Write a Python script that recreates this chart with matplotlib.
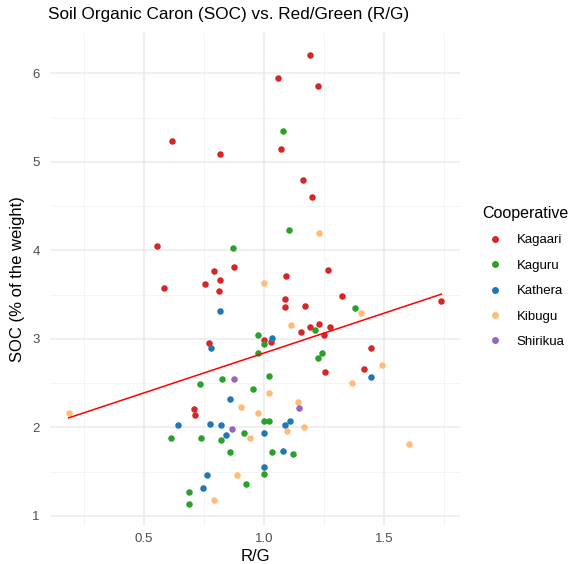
import numpy as np
import matplotlib
matplotlib.use("Agg")
import matplotlib.pyplot as plt
from matplotlib.ticker import MultipleLocator
from matplotlib.lines import Line2D

plt.rcParams['font.family'] = ['Liberation Sans', 'DejaVu Sans']

# ---- data ----
cooperatives = ["Kagaari", "Kaguru", "Kathera", "Kibugu", "Shirikua"]
colors = ["#d62728", "#2ca02c", "#1f77b4", "#ffbb78", "#9467bd"]

kagaari_x = [0.615, 0.815, 0.555, 0.876, 0.789, 0.814, 0.755, 0.810, 0.583, 1.189, 1.058, 1.226,
             1.071, 1.1625, 1.201, 1.265, 1.09, 0.769, 0.708, 0.714, 1.086, 1.086, 1.168, 1.323,
             1.155, 1.19, 1.23, 1.272, 1.25, 0.998, 1.03, 1.443, 1.414, 1.255, 1.7375]
kagaari_y = [5.24, 5.085, 4.045, 3.815, 3.766, 3.665, 3.617, 3.538, 3.579, 6.207, 5.947, 5.856,
             5.148, 4.798, 4.606, 3.778, 3.707, 2.95, 2.208, 2.137, 3.448, 3.358, 3.369, 3.489,
             3.08, 3.14, 3.17, 3.14, 3.05, 2.987, 2.96, 2.897, 2.662, 2.632, 3.43]

kaguru_x = [0.869, 1.080, 1.105, 0.975, 0.976, 0.826, 0.733, 0.955, 0.915, 0.6125, 0.736, 0.819,
            0.857, 0.925, 0.685, 0.6875, 1.376, 1.211, 0.998, 1.24, 1.225, 1.018, 0.998, 1.019,
            1.032, 1.121, 0.998]
kaguru_y = [4.026, 5.348, 4.226, 3.04, 2.84, 2.546, 2.486, 2.437, 1.936, 1.876, 1.876, 1.857,
            1.718, 1.359, 1.268, 1.136, 3.347, 3.1, 2.94, 2.84, 2.79, 2.583, 2.07, 2.07,
            1.718, 1.695, 1.469]

kathera_x = [0.815, 0.7775, 0.857, 0.643, 0.773, 0.819, 0.840, 0.764, 0.746, 1.032, 1.443, 1.107,
             1.0875, 0.998, 1.079, 0.998]
kathera_y = [3.319, 2.897, 2.317, 2.026, 2.038, 2.026, 1.917, 1.457, 1.314, 3.01, 2.572, 2.07,
             2.03, 1.936, 1.729, 1.548]

kibugu_x = [1.2275, 0.998, 0.186, 0.904, 0.975, 0.943, 0.885, 0.7916, 1.4025, 1.11, 1.49, 1.367,
            1.022, 1.14, 1.165, 1.096, 1.6025]
kibugu_y = [4.196, 3.63, 2.167, 2.23, 2.166, 1.876, 1.468, 1.178, 3.29, 3.162, 2.70, 2.507,
            2.384, 2.286, 2.0, 1.955, 1.81]

shirikua_x = [0.876, 0.864, 1.144]
shirikua_y = [2.546, 1.977, 2.215]

series_x = [kagaari_x, kaguru_x, kathera_x, kibugu_x, shirikua_x]
series_y = [kagaari_y, kaguru_y, kathera_y, kibugu_y, shirikua_y]

title = "Soil Organic Caron (SOC) vs. Red/Green (R/G)"
xlabel = "R/G"
ylabel = "SOC (% of the weight)"

# ---- figure ----
fig = plt.figure(figsize=(5.69, 5.64), dpi=100)
ax = fig.add_axes([0.0879, 0.0668, 0.7205, 0.8752])

for xs, ys, c in zip(series_x, series_y, colors):
    ax.scatter(xs, ys, s=22, color=c, linewidths=0, zorder=3)

# linear fit over all data
all_x = np.concatenate([np.array(v) for v in series_x])
all_y = np.concatenate([np.array(v) for v in series_y])
slope, intercept = np.polyfit(all_x, all_y, 1)
lx = np.array([all_x.min(), all_x.max()])
ax.plot(lx, slope * lx + intercept, color="red", lw=1.1, zorder=4)

# limits with ggplot-like expansion
xr = all_x.max() - all_x.min()
yr = all_y.max() - all_y.min()
ax.set_xlim(all_x.min() - 0.05 * xr, all_x.max() + 0.05 * xr)
ax.set_ylim(all_y.min() - 0.05 * yr, all_y.max() + 0.05 * yr)

ax.xaxis.set_major_locator(MultipleLocator(0.5))
ax.xaxis.set_minor_locator(MultipleLocator(0.25))
ax.yaxis.set_major_locator(MultipleLocator(1))
ax.yaxis.set_minor_locator(MultipleLocator(0.5))
ax.xaxis.set_major_formatter(matplotlib.ticker.FormatStrFormatter('%.1f'))
ax.yaxis.set_major_formatter(matplotlib.ticker.FormatStrFormatter('%d'))

ax.grid(which='major', color='#ebebeb', lw=1.1, zorder=0)
ax.grid(which='minor', color='#f2f2f2', lw=0.6, zorder=0)
ax.set_axisbelow(True)
for sp in ax.spines.values():
    sp.set_visible(False)
ax.tick_params(which='both', length=0, labelsize=9.5, labelcolor='#4d4d4d')
ax.tick_params(axis='y', pad=7.5)
ax.tick_params(axis='x', pad=5)

ax.set_xlabel(xlabel, fontsize=12, color='black', labelpad=2.5)
ax.set_ylabel(ylabel, fontsize=12, color='black', labelpad=5)
fig.text(48 / 569, 1 - 14 / 564, title, fontsize=12.3, ha='left', va='center')

handles = [Line2D([], [], marker='o', ls='', color=c, markersize=5, markeredgewidth=0)
           for c in colors]
leg = fig.legend(handles, cooperatives, title="Cooperative", loc='upper left',
                 bbox_to_anchor=(470 / 569, 1 - 194 / 564), frameon=False,
                 fontsize=9.5, title_fontsize=11.5, labelspacing=1.0, handletextpad=0.64,
                 handlelength=2.0)
leg._legend_box.align = "left"

fig.savefig("out.png", dpi=100)
